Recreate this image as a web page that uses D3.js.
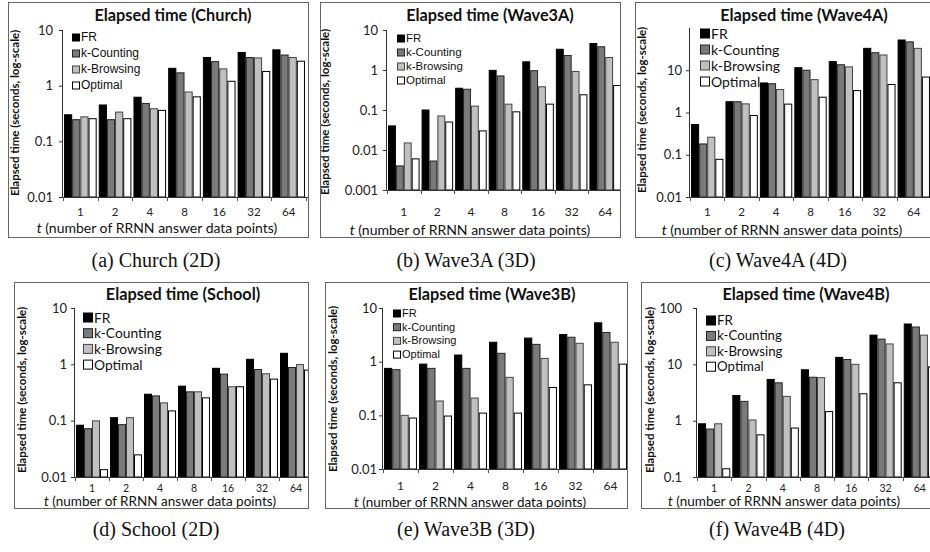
<!DOCTYPE html>
<html><head><meta charset="utf-8">
<script src="https://cdn.jsdelivr.net/npm/d3@7"></script>
<style>body{margin:0;background:#fff} svg{display:block}</style>
</head><body><svg id="c" width="930" height="552"></svg>
<script>
// ---------- data ----------
const categories = ["1", "2", "4", "8", "16", "32", "64"];
const seriesNames = ["FR", "k-Counting", "k-Browsing", "Optimal"];

const churchFR  = [0.30, 0.45, 0.62, 2.05, 3.2, 3.95, 4.4];
const churchKC  = [0.245, 0.245, 0.48, 1.7, 2.7, 3.2, 3.55];
const churchKB  = [0.275, 0.335, 0.385, 0.77, 2.0, 3.15, 3.2];
const churchOpt = [0.255, 0.255, 0.36, 0.63, 1.2, 1.8, 2.75];

const wave3aFR  = [0.04, 0.1, 0.35, 0.98, 1.6, 3.3, 4.6];
const wave3aKC  = [0.004, 0.0053, 0.33, 0.71, 0.96, 2.3, 3.8];
const wave3aKB  = [0.015, 0.071, 0.125, 0.14, 0.38, 0.92, 2.05];
const wave3aOpt = [0.006, 0.05, 0.03, 0.09, 0.14, 0.24, 0.41];

const wave4aFR  = [0.52, 1.8, 5.0, 11.5, 16, 33, 52];
const wave4aKC  = [0.18, 1.8, 4.8, 10, 13.5, 26, 47];
const wave4aKB  = [0.26, 1.6, 3.5, 6.0, 12, 23, 33];
const wave4aOpt = [0.078, 0.85, 1.58, 2.3, 3.3, 4.6, 6.9];

const schoolFR  = [0.083, 0.113, 0.295, 0.41, 0.85, 1.23, 1.57];
const schoolKC  = [0.072, 0.085, 0.275, 0.325, 0.67, 0.81, 0.88];
const schoolKB  = [0.099, 0.113, 0.207, 0.325, 0.40, 0.68, 0.99];
const schoolOpt = [0.0135, 0.0247, 0.149, 0.254, 0.40, 0.547, 0.79];

const wave3bFR  = [0.75, 0.90, 1.33, 2.3, 2.75, 3.2, 5.3];
const wave3bKC  = [0.71, 0.75, 0.75, 1.43, 2.1, 2.85, 3.5];
const wave3bKB  = [0.1, 0.185, 0.21, 0.51, 1.15, 2.2, 2.3];
const wave3bOpt = [0.089, 0.097, 0.11, 0.11, 0.33, 0.37, 0.9];

const wave4bFR  = [0.88, 2.8, 5.4, 8.0, 13.3, 33, 52];
const wave4bKC  = [0.71, 2.2, 4.7, 5.9, 12.2, 28, 46];
const wave4bKB  = [0.88, 1.03, 2.7, 5.8, 10, 23, 33];
const wave4bOpt = [0.14, 0.56, 0.74, 1.45, 3.0, 4.7, 9];

const ticks3 = ["0.01", "0.1", "1", "10"];
const ticks4 = ["0.001", "0.01", "0.1", "1", "10"];
const ticksB = ["0.1", "1", "10", "100"];

const titles = ["Elapsed time (Church)", "Elapsed time (Wave3A)", "Elapsed time (Wave4A)",
                "Elapsed time (School)", "Elapsed time (Wave3B)", "Elapsed time (Wave4B)"];
const captions = ["(a) Church (2D)", "(b) Wave3A (3D)", "(c) Wave4A (4D)",
                  "(d) School (2D)", "(e) Wave3B (3D)", "(f) Wave4B (4D)"];
const yTitle = "Elapsed time (seconds, log-scale)";

// ---------- styles / layout ----------
const fills = ["#000000", "#7a7a7a", "#c0c0c0", "#ffffff"];
const strokes = ["#000000", "#222222", "#444444", "#000000"];
const CAL = "Lato, 'Open Sans', sans-serif";
const ARI = "'Liberation Sans', Arial, sans-serif";

const panels = [
  {series:[churchFR, churchKC, churchKB, churchOpt], ticks:ticks3, domain:[0.01,10],
   box:[8,2,308,237], plot:[63,30,306,197], titleX:173, titleY:21, yTX:15, yTY:113,
   tickX:53, catY:216, catSize:11.5, xlabY:233, xlabSize:14, xlabX:157, capX:156, capY:267,
   leg:{x:72, y:37, dy:16, font:ARI, size:12, sq:7}},
  {series:[wave3aFR, wave3aKC, wave3aKB, wave3aOpt], ticks:ticks4, domain:[0.001,10],
   box:[320,2,620,237], plot:[387,30,622,190], titleX:490, titleY:21, yTX:325, yTY:112,
   tickX:378, catY:216, catSize:12, xlabY:235, xlabSize:14, xlabX:470, capX:466, capY:267,
   leg:{x:397, y:38, dy:14, font:ARI, size:11.5, sq:7}},
  {series:[wave4aFR, wave4aKC, wave4aKB, wave4aOpt], ticks:ticks3, domain:[0.01,100],
   box:[635,2,940,237], plot:[690,28,931,197], titleX:804, titleY:21, yTX:642, yTY:110,
   tickX:682, catY:216, catSize:11.5, xlabY:235, xlabSize:14, xlabX:782, capX:778, capY:267,
   leg:{x:700, y:33, dy:16, font:CAL, size:14, sq:9}},
  {series:[schoolFR, schoolKC, schoolKB, schoolOpt], ticks:ticks3, domain:[0.01,10],
   box:[14,282,308,508], plot:[75,308,313,477], titleX:183, titleY:300, yTX:22, yTY:390,
   tickX:67, catY:492, catSize:10.5, xlabY:506, xlabSize:13.5, xlabX:160, capX:156, capY:536,
   leg:{x:83, y:317, dy:15.7, font:CAL, size:13.8, sq:9}},
  {series:[wave3bFR, wave3bKC, wave3bKB, wave3bOpt], ticks:ticks3, domain:[0.01,10],
   box:[325,282,627,508], plot:[383,308,628,469], titleX:492, titleY:300, yTX:333, yTY:389,
   tickX:377, catY:490, catSize:12, xlabY:507, xlabSize:13.5, xlabX:470, capX:466, capY:536,
   leg:{x:393, y:313, dy:13.7, font:ARI, size:11, sq:7}},
  {series:[wave4bFR, wave4bKC, wave4bKB, wave4bOpt], ticks:ticksB, domain:[0.1,100],
   box:[641,282,940,508], plot:[697,308,937,477], titleX:806, titleY:300, yTX:650, yTY:390,
   tickX:682, catY:492, catSize:10.5, xlabY:506, xlabSize:13.5, xlabX:784, capX:777, capY:536,
   leg:{x:706, y:320, dy:15.4, font:CAL, size:13.3, sq:9}}
];

const svg = d3.select("#c");

panels.forEach((p, i) => {
  const [bx0, by0, bx1, by1] = p.box;
  const [px0, py0, px1, py1] = p.plot;
  const g = svg.append("g");
  const clipId = "clip" + i;
  svg.append("defs").append("clipPath").attr("id", clipId)
    .append("rect").attr("x", bx0).attr("y", by0).attr("width", bx1 - bx0).attr("height", by1 - by0);
  const inner = g.append("g").attr("clip-path", `url(#${clipId})`);

  const y = d3.scaleLog().domain(p.domain).range([py1, py0]);
  const x0 = d3.scaleBand().domain(categories).range([px0, px1]).paddingInner(0.06).paddingOuter(0.03);
  const x1 = d3.scaleBand().domain(seriesNames).range([0, x0.bandwidth()]);

  // bars
  p.series.forEach((vals, si) => {
    inner.selectAll(null).data(vals).enter().append("rect")
      .attr("x", (d, ci) => x0(categories[ci]) + x1(seriesNames[si]) + 0.5)
      .attr("y", d => y(d))
      .attr("width", x1.bandwidth() - 1)
      .attr("height", d => y(p.domain[0]) - y(d))
      .attr("fill", fills[si]).attr("stroke", strokes[si]).attr("stroke-width", 1);
  });

  // y axis
  const tv = p.ticks.map(Number);
  const ya = d3.axisLeft(y).tickValues(tv).tickFormat((d, k) => p.ticks[k]).tickSize(4).tickPadding(px0 - p.tickX - 4);
  const yg = inner.append("g").attr("transform", `translate(${px0},0)`).call(ya);
  yg.select(".domain").attr("stroke", "#333").attr("d", `M-0.5,${py0}V${py1}`);
  yg.selectAll(".tick line").attr("stroke", "#333");
  yg.selectAll(".tick text").attr("font-family", CAL).attr("font-size", 13).attr("fill", "#222");

  // x axis
  const xg = inner.append("g");
  xg.append("line").attr("x1", px0).attr("x2", px1 + 10).attr("y1", py1 + 0.5).attr("y2", py1 + 0.5).attr("stroke", "#333");
  const step = x0.step();
  const bounds = categories.map(c => x0(c) - step * x0.paddingInner() / 2).concat([x0(categories[6]) + x0.bandwidth() + step * x0.paddingInner() / 2]);
  xg.selectAll(null).data(bounds).enter().append("line")
    .attr("x1", d => Math.round(d) + 0.5).attr("x2", d => Math.round(d) + 0.5)
    .attr("y1", py1).attr("y2", py1 + 4).attr("stroke", "#555");
  xg.selectAll(null).data(categories).enter().append("text")
    .attr("x", c => x0(c) + x0.bandwidth() / 2).attr("y", p.catY)
    .attr("text-anchor", "middle").attr("font-family", CAL).attr("font-size", p.catSize).attr("fill", "#222")
    .text(c => c);

  const xl = inner.append("text").attr("x", p.xlabX).attr("y", p.xlabY).attr("text-anchor", "middle")
    .attr("font-family", CAL).attr("font-size", p.xlabSize).attr("fill", "#111");
  xl.append("tspan").attr("font-style", "italic").text("t");
  xl.append("tspan").text(" (number of RRNN answer data points)");

  // title
  inner.append("text").attr("x", p.titleX).attr("y", p.titleY).attr("text-anchor", "middle")
    .attr("font-family", CAL).attr("font-weight", "bold").attr("font-size", 16.3).attr("fill", "#111")
    .text(titles[i]);

  // y title
  inner.append("text").attr("transform", `translate(${p.yTX + 4},${p.yTY}) rotate(-90)`)
    .attr("text-anchor", "middle").attr("font-family", CAL).attr("font-weight", "bold")
    .attr("font-size", 11.5).attr("fill", "#111").text(yTitle);

  // legend
  const L = p.leg;
  seriesNames.forEach((s, si) => {
    const cy = L.y + si * L.dy;
    inner.append("rect").attr("x", L.x + 0.5).attr("y", cy - L.sq / 2 + 0.5).attr("width", L.sq).attr("height", L.sq)
      .attr("fill", fills[si]).attr("stroke", strokes[si]).attr("stroke-width", 1);
    inner.append("text").attr("x", L.x + L.sq + 2).attr("y", cy).attr("dominant-baseline", "central")
      .attr("font-family", L.font).attr("font-size", L.size).attr("fill", "#111").text(s);
  });

  // border
  g.append("rect").attr("x", bx0 + 0.5).attr("y", by0 + 0.5).attr("width", bx1 - bx0).attr("height", by1 - by0)
    .attr("fill", "none").attr("stroke", "#666").attr("stroke-width", 1);

  // caption
  svg.append("text").attr("x", p.capX).attr("y", p.capY).attr("text-anchor", "middle")
    .attr("font-family", "'Liberation Serif', 'DejaVu Serif', serif").attr("font-size", 20).attr("fill", "#111")
    .text(captions[i]);
});
</script>
</body></html>
